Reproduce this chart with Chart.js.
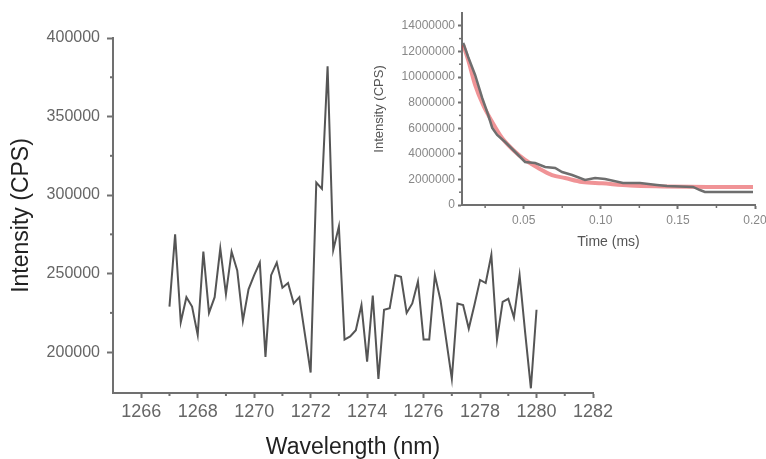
<!DOCTYPE html>
<html>
<head>
<meta charset="utf-8">
<script src="https://cdn.jsdelivr.net/npm/chart.js@4"></script>
<style>
  html, body { margin: 0; padding: 0; background: #fff; }
  #wrap { position: relative; width: 766px; height: 459px; }
  #mainChart { position: absolute; left: 0; top: 0; }
  #insetChart { position: absolute; left: 360px; top: 0; }
</style>
</head>
<body>
<div id="wrap">
  <canvas id="mainChart" width="766" height="459"></canvas>
  <canvas id="insetChart" width="406" height="260"></canvas>
</div>
<script>
// Emission spectrum (main plot)
const wavelengths = [
  1267.0, 1267.2, 1267.4, 1267.6, 1267.8, 1268.0, 1268.2, 1268.4, 1268.6, 1268.8,
  1269.0, 1269.2, 1269.4, 1269.6, 1269.8, 1270.0, 1270.2, 1270.4, 1270.6, 1270.8,
  1271.0, 1271.2, 1271.4, 1271.6, 1271.8, 1272.0, 1272.2, 1272.4, 1272.6, 1272.8,
  1273.0, 1273.2, 1273.4, 1273.6, 1273.8, 1274.0, 1274.2, 1274.4, 1274.6, 1274.8,
  1275.0, 1275.2, 1275.4, 1275.6, 1275.8, 1276.0, 1276.2, 1276.4, 1276.6, 1276.8,
  1277.0, 1277.2, 1277.4, 1277.6, 1277.8, 1278.0, 1278.2, 1278.4, 1278.6, 1278.8,
  1279.0, 1279.2, 1279.4, 1279.6, 1279.8, 1280.0
];
const intensity = [
  229000, 275000, 219000, 235000, 229000, 211000, 264000, 225000, 235000, 266000,
  237000, 264000, 252000, 220000, 240000, 249000, 257000, 197000, 249000, 257000,
  241000, 244000, 231000, 235000, 211000, 187000, 308000, 304000, 382000, 265000,
  280000, 208000, 210000, 214000, 230000, 194000, 236000, 183000, 227000, 228000,
  249000, 248000, 225000, 231000, 245000, 208000, 208000, 249000, 233000, 208000,
  183000, 231000, 230000, 215000, 230000, 246000, 244000, 262000, 208000, 232000,
  234000, 222000, 249000, 212000, 177000, 227000
];
const mainXTicks = [1266, 1268, 1270, 1272, 1274, 1276, 1278, 1280, 1282];
const mainXMinor = [1267, 1269, 1271, 1273, 1275, 1277, 1279, 1281];
const mainYTicks = [200000, 250000, 300000, 350000, 400000];
const mainYMinor = [225000, 275000, 325000, 375000];

// Luminescence decay (inset)
const decayTime = [
  0.0108, 0.0140, 0.0185, 0.0231, 0.0270, 0.0296, 0.0328, 0.0380, 0.0445, 0.0509,
  0.0574, 0.0639, 0.0704, 0.0749, 0.0814, 0.0898, 0.0963, 0.1028, 0.1144, 0.1254,
  0.1364, 0.1429, 0.1598, 0.1643, 0.1675, 0.1987
];
const decayCounts = [
  12660000, 11560000, 10160000, 8360000, 7030000, 6020000, 5470000, 4920000, 4140000, 3360000,
  3280000, 2970000, 2890000, 2580000, 2340000, 1950000, 2110000, 2030000, 1720000, 1720000,
  1560000, 1480000, 1410000, 1170000, 1020000, 1020000
];
const fitTime = [
  0.0108, 0.0140, 0.0185, 0.0237, 0.0296, 0.0360, 0.0432, 0.0509, 0.0594, 0.0684,
  0.0768, 0.0879, 0.1008, 0.1190, 0.1404, 0.1579, 0.1689, 0.1987
];
const fitCounts = [
  12500000, 11330000, 9380000, 7810000, 6480000, 5230000, 4300000, 3520000, 2890000, 2340000,
  2110000, 1800000, 1690000, 1520000, 1450000, 1420000, 1410000, 1400000
];
const insetXTicks = [0.05, 0.10, 0.15, 0.20];
const insetXMinor = [0.025, 0.075, 0.125, 0.175];
const insetYTicks = [0, 2000000, 4000000, 6000000, 8000000, 10000000, 12000000, 14000000];
const insetYMinor = [1000000, 3000000, 5000000, 7000000, 9000000, 11000000, 13000000];

const FONT = "'Liberation Sans', Arial, sans-serif";
const AXIS_GRAY = "#707070";

// short unlabeled ticks between the labeled ones
const minorTicks = {
  id: "minorTicks",
  afterDraw(chart, args, opts) {
    const ctx = chart.ctx;
    const xs = chart.scales.x;
    const ys = chart.scales.y;
    ctx.save();
    ctx.strokeStyle = opts.color;
    ctx.lineWidth = opts.width;
    opts.x.forEach((v) => {
      const px = xs.getPixelForValue(v);
      ctx.beginPath();
      ctx.moveTo(px, xs.top);
      ctx.lineTo(px, xs.top + opts.length);
      ctx.stroke();
    });
    opts.y.forEach((v) => {
      const py = ys.getPixelForValue(v);
      ctx.beginPath();
      ctx.moveTo(ys.right, py);
      ctx.lineTo(ys.right - opts.length, py);
      ctx.stroke();
    });
    ctx.restore();
  },
};

function axisGrid(len) {
  return {
    drawOnChartArea: false,
    drawTicks: true,
    tickLength: len,
    tickColor: AXIS_GRAY,
    tickWidth: 2,
  };
}

new Chart(document.getElementById("mainChart"), {
  type: "line",
  data: {
    datasets: [
      {
        data: wavelengths.map((w, i) => ({ x: w, y: intensity[i] })),
        borderColor: "#555555",
        borderWidth: 2,
        pointRadius: 0,
        tension: 0,
      },
    ],
  },
  options: {
    responsive: false,
    animation: false,
    layout: { padding: { left: 0, top: 38, right: 173, bottom: 0 } },
    plugins: {
      legend: { display: false },
      tooltip: { enabled: false },
      minorTicks: { x: mainXMinor, y: mainYMinor, length: 3, color: AXIS_GRAY, width: 2 },
    },
    scales: {
      x: {
        type: "linear",
        min: 1265,
        max: 1282,
        afterBuildTicks: (s) => { s.ticks = mainXTicks.map((v) => ({ value: v })); },
        afterFit: (s) => { s.height = 66; s.paddingLeft = 0; s.paddingRight = 0; },
        grid: axisGrid(5),
        border: { display: true, color: AXIS_GRAY, width: 2 },
        ticks: {
          padding: 3,
          maxRotation: 0,
          color: "#666",
          font: { family: FONT, size: 18 },
          callback: (v) => String(v),
        },
        title: {
          display: true,
          text: "Wavelength (nm)",
          color: "#222",
          font: { family: FONT, size: 23, lineHeight: 1 },
          padding: { top: 0, bottom: 0 },
        },
      },
      y: {
        min: 174000,
        max: 400000,
        afterBuildTicks: (s) => { s.ticks = mainYTicks.map((v) => ({ value: v })); },
        afterFit: (s) => { s.width = 113; },
        grid: axisGrid(6),
        border: { display: true, color: AXIS_GRAY, width: 2 },
        ticks: {
          padding: 7,
          color: "#666",
          font: { family: FONT, size: 16 },
          callback: (v) => String(v),
        },
        title: {
          display: true,
          text: "Intensity (CPS)",
          color: "#222",
          font: { family: FONT, size: 23, lineHeight: 1 },
          padding: { top: 10, bottom: 0 },
        },
      },
    },
  },
  plugins: [minorTicks],
});

new Chart(document.getElementById("insetChart"), {
  type: "line",
  data: {
    datasets: [
      {
        data: decayTime.map((t, i) => ({ x: t, y: decayCounts[i] })),
        borderColor: "#6e6e6e",
        borderWidth: 2.5,
        pointRadius: 0,
        tension: 0,
      },
      {
        data: fitTime.map((t, i) => ({ x: t, y: fitCounts[i] })),
        borderColor: "rgba(225, 40, 45, 0.5)",
        borderWidth: 4,
        pointRadius: 0,
        cubicInterpolationMode: "monotone",
      },
    ],
  },
  options: {
    responsive: false,
    animation: false,
    layout: { padding: { left: 0, top: 13, right: 11, bottom: 0 } },
    plugins: {
      legend: { display: false },
      tooltip: { enabled: false },
      minorTicks: { x: insetXMinor, y: insetYMinor, length: 3, color: AXIS_GRAY, width: 1.5 },
    },
    scales: {
      x: {
        type: "linear",
        min: 0.010,
        max: 0.20,
        afterBuildTicks: (s) => { s.ticks = insetXTicks.map((v) => ({ value: v })); },
        afterFit: (s) => { s.height = 55; s.paddingLeft = 0; s.paddingRight = 0; },
        grid: axisGrid(4),
        border: { display: true, color: AXIS_GRAY, width: 2 },
        ticks: {
          padding: 4,
          maxRotation: 0,
          color: "#888",
          font: { family: FONT, size: 12 },
          callback: (v) => v.toFixed(2),
        },
        title: {
          display: true,
          text: "Time (ms)",
          color: "#555",
          font: { family: FONT, size: 14, lineHeight: 1 },
          padding: { top: 0, bottom: 11 },
        },
      },
      y: {
        min: 0,
        max: 15000000,
        afterBuildTicks: (s) => { s.ticks = insetYTicks.map((v) => ({ value: v })); },
        afterFit: (s) => { s.width = 102; },
        grid: axisGrid(4),
        border: { display: true, color: AXIS_GRAY, width: 2 },
        ticks: {
          padding: 3,
          color: "#888",
          font: { family: FONT, size: 12 },
          callback: (v) => String(v),
        },
        title: {
          display: true,
          text: "Intensity (CPS)",
          color: "#555",
          font: { family: FONT, size: 13, lineHeight: 1 },
          padding: { top: 13, bottom: 0 },
        },
      },
    },
  },
  plugins: [minorTicks],
});
</script>
</body>
</html>
